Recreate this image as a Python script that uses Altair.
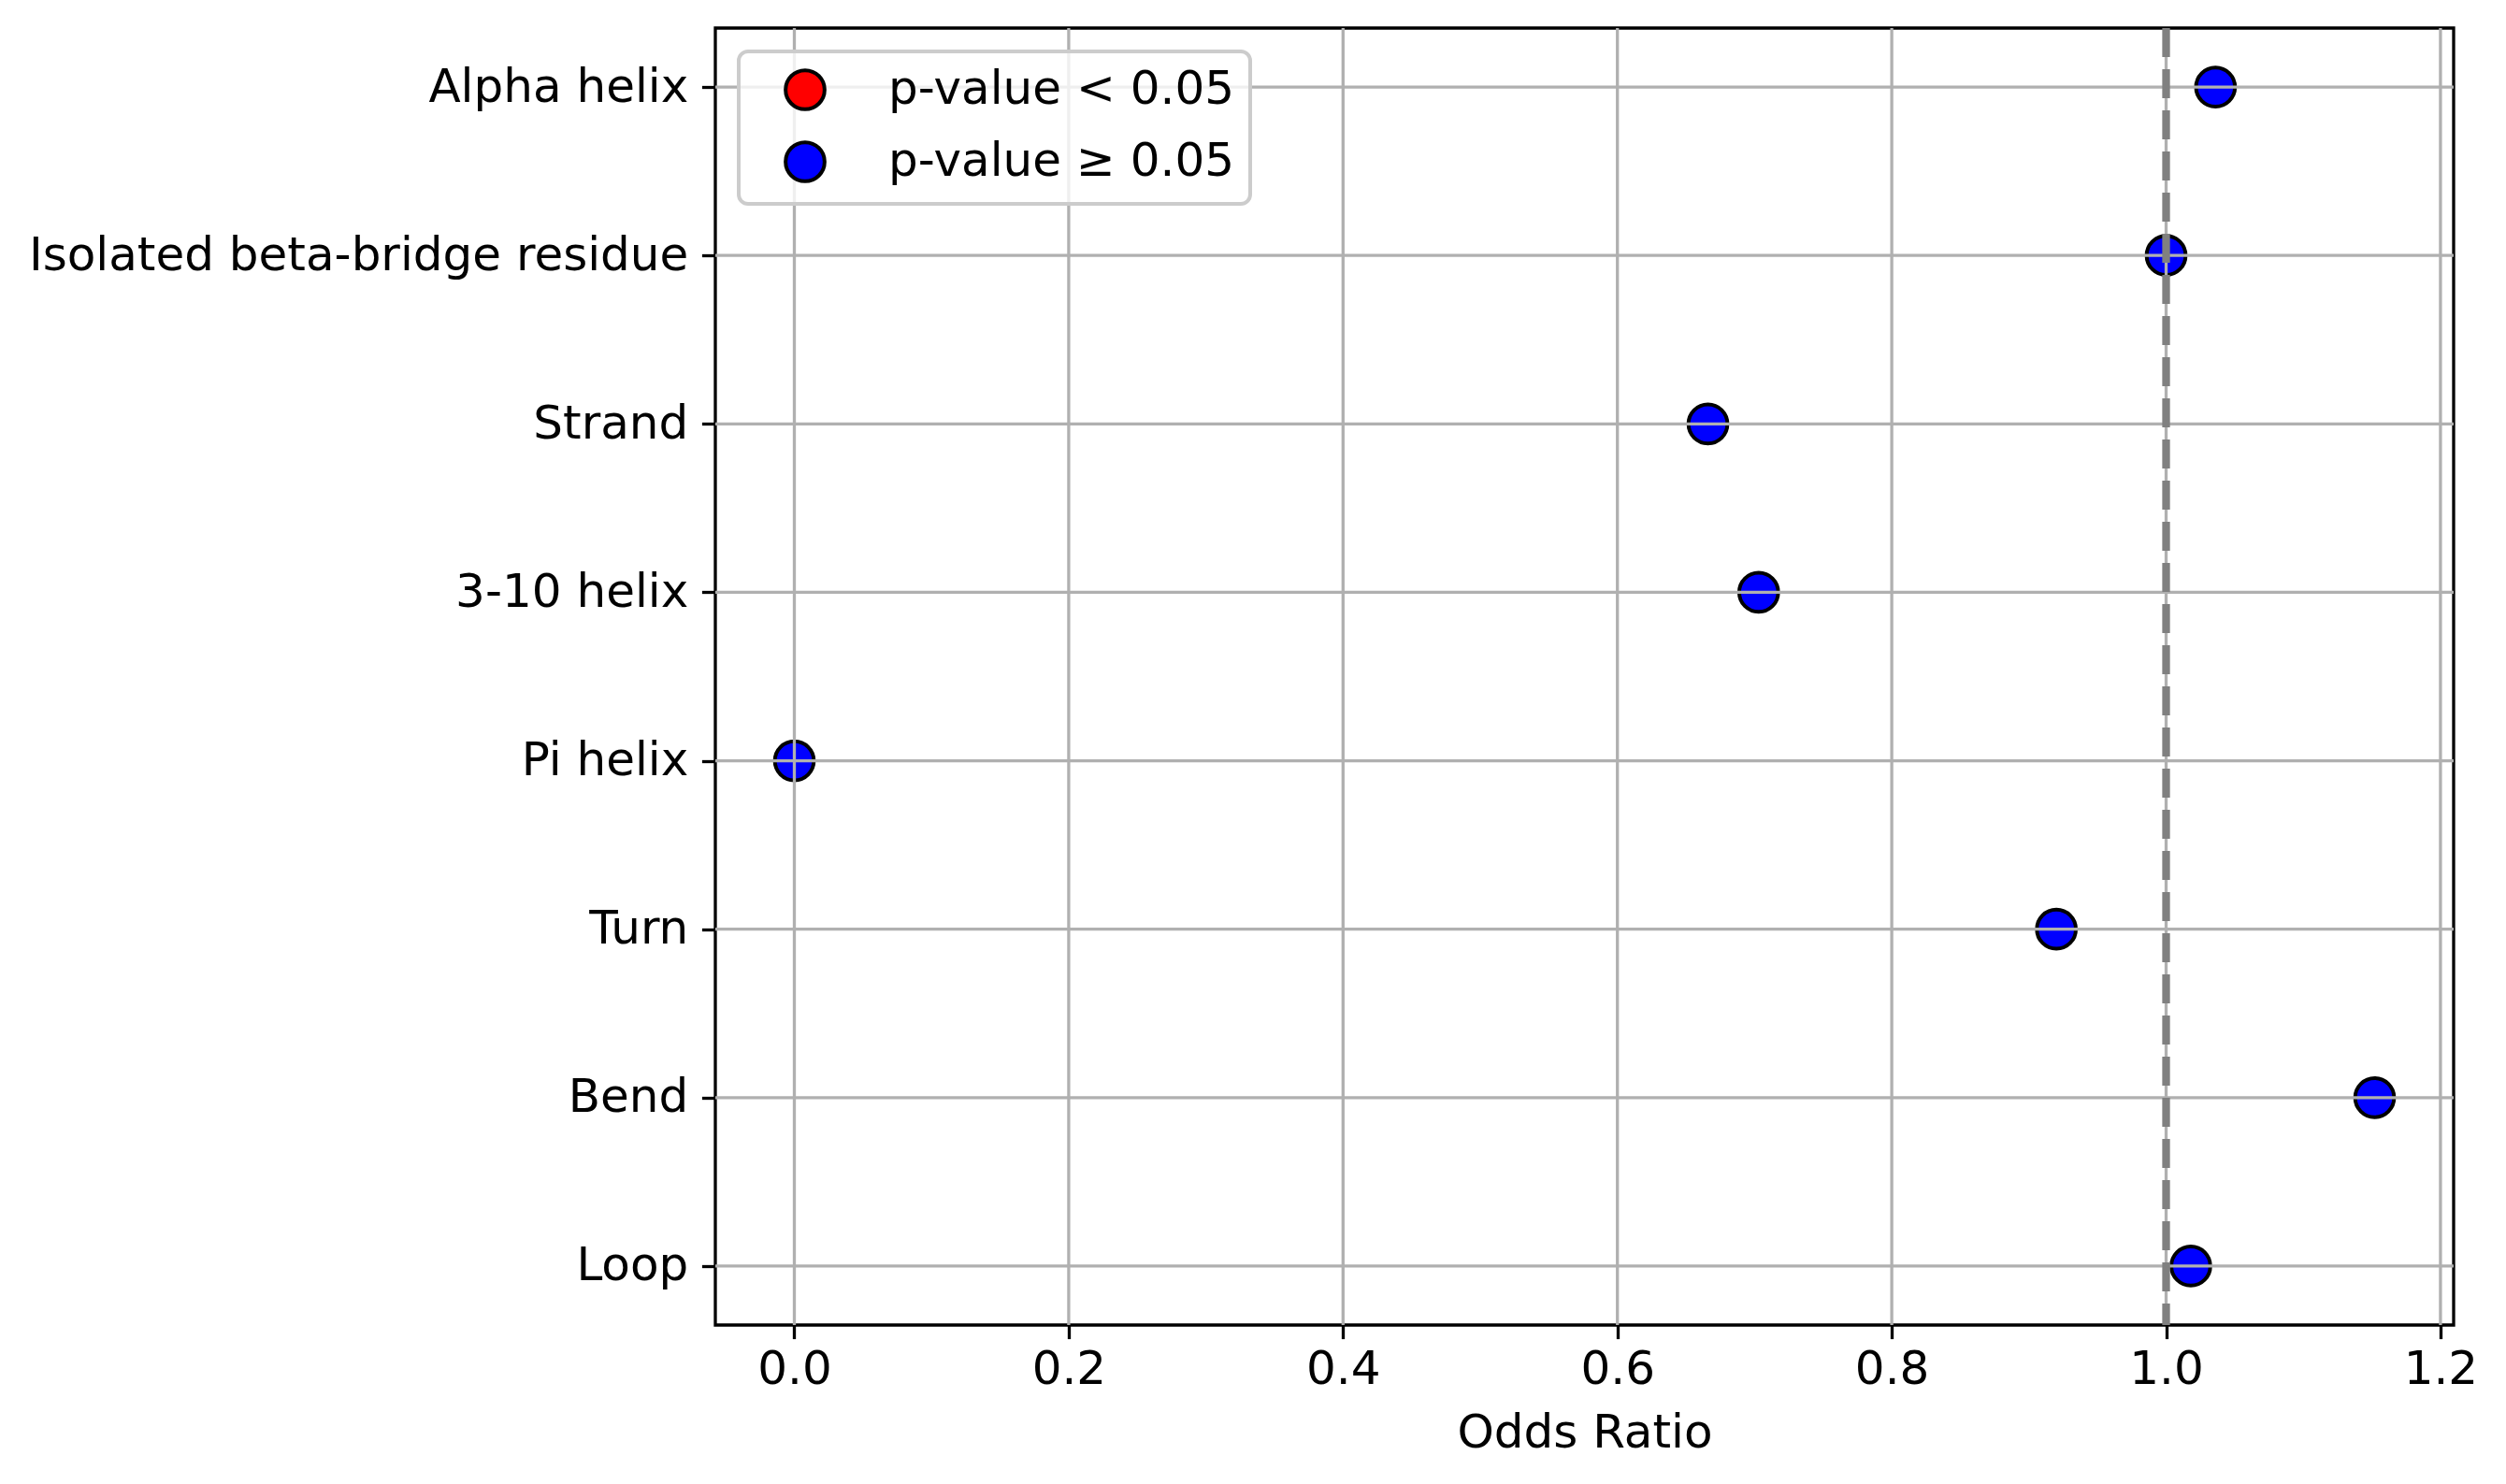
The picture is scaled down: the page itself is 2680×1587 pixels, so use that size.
import altair as alt
import pandas as pd

categories = ["Alpha helix", "Isolated beta-bridge residue", "Strand", "3-10 helix",
              "Pi helix", "Turn", "Bend", "Loop"]
odds_ratio = [1.036, 1.000, 0.666, 0.703, 0.000, 0.920, 1.152, 1.018]
significance = ["p-value ≥ 0.05"] * 8
sig_levels = ["p-value < 0.05", "p-value ≥ 0.05"]
sig_colors = ["#ff0000", "#0000ff"]
x_ticks = [0.0, 0.2, 0.4, 0.6, 0.8, 1.0, 1.2]
reference_value = [1.0]

df = pd.DataFrame({"category": categories, "odds": odds_ratio, "sig": significance})
vgrid_df = pd.DataFrame({"odds": x_ticks})
hgrid_df = pd.DataFrame({"category": categories})
ref_df = pd.DataFrame({"odds": reference_value})

x_scale = alt.Scale(domain=[-0.0576, 1.2096], nice=False, zero=False)
y_scale = alt.Scale(type="point", padding=0.35)

points = alt.Chart(df).mark_point(
    filled=True, size=1739, stroke="black", strokeWidth=4, opacity=1
).encode(
    x=alt.X("odds:Q", scale=x_scale,
            axis=alt.Axis(values=x_ticks, format=".1f", title="Odds Ratio")),
    y=alt.Y("category:N", sort=categories, scale=y_scale, axis=alt.Axis(title=None)),
    color=alt.Color(
        "sig:N",
        scale=alt.Scale(domain=sig_levels, range=sig_colors),
        legend=alt.Legend(
            title=None, orient="top-left", offset=25, padding=16,
            symbolOffset=30, labelOffset=64, rowPadding=19,
            symbolSize=1739, symbolStrokeWidth=4, symbolStrokeColor="black",
            symbolType="circle", symbolOpacity=1,
            labelFontSize=50, labelColor="black", labelFont="DejaVu Sans",
            labelLimit=0,
            fillColor="rgba(255,255,255,0.8)", strokeColor="#cccccc",
            cornerRadius=10,
        ),
    ),
)

vgrid = alt.Chart(vgrid_df).mark_rule(color="#b0b0b0", strokeWidth=3.3).encode(
    x=alt.X("odds:Q", scale=x_scale)
)
hgrid = alt.Chart(hgrid_df).mark_rule(color="#b0b0b0", strokeWidth=3.3).encode(
    y=alt.Y("category:N", sort=categories, scale=y_scale)
)
ref = alt.Chart(ref_df).mark_rule(color="#808080", strokeWidth=8.3, strokeDash=[31, 13]).encode(
    x=alt.X("odds:Q", scale=x_scale)
)

chart = alt.layer(points, vgrid, hgrid, ref).properties(
    width=1859, height=1387,
    padding={"left": 22, "top": 17, "right": 5, "bottom": 5},
    background="white",
).configure_view(
    stroke="black", strokeWidth=3.3
).configure_axis(
    grid=False, domain=False, labelLimit=0,
    labelFont="DejaVu Sans", labelFontSize=50, labelColor="black",
    titleFont="DejaVu Sans", titleFontSize=50, titleColor="black", titleFontWeight="normal",
    tickColor="black", tickWidth=3.3, tickSize=14.6,
).configure_axisY(
    labelPadding=14.6
).configure_axisX(
    labelPadding=8, titlePadding=18
).configure_legend(
    strokeWidth=4
)

chart.save("out.html", embed_options={"renderer": "svg", "actions": False})
